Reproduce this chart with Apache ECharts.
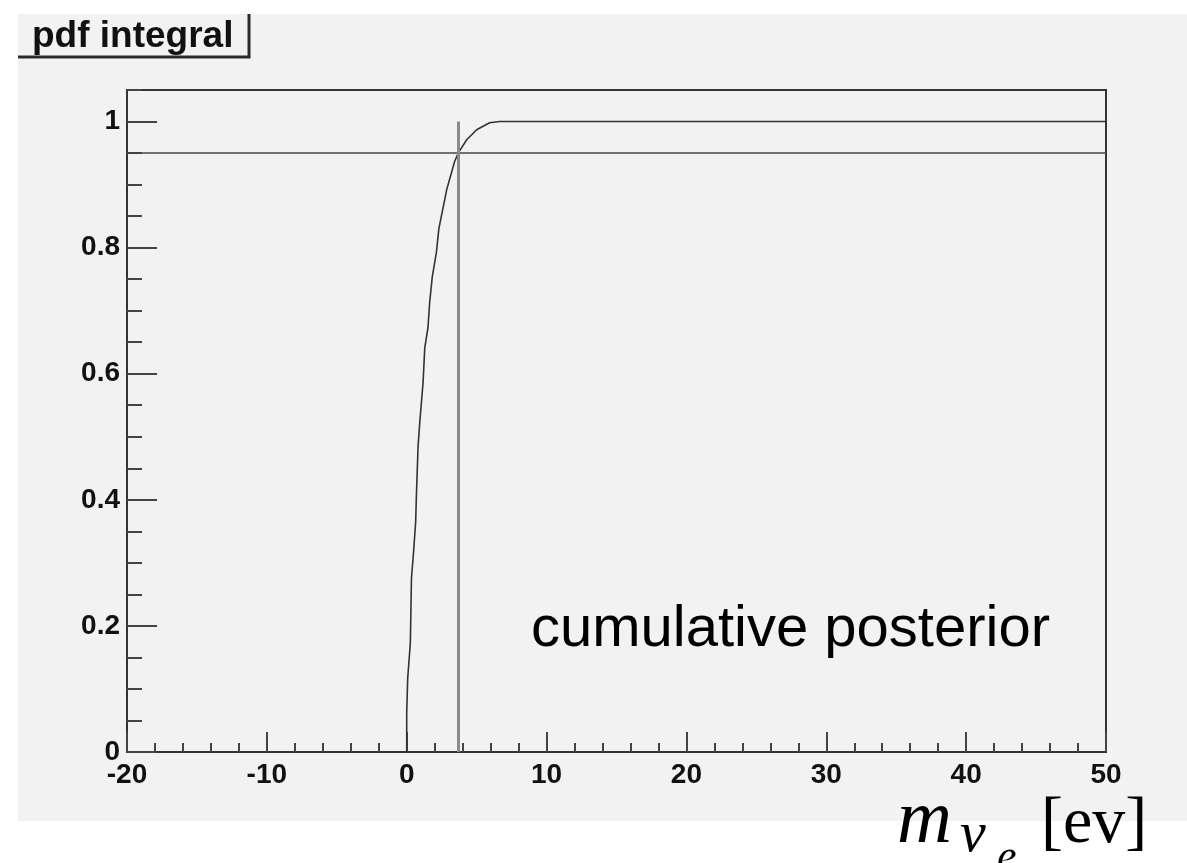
<!DOCTYPE html>
<html>
<head>
<meta charset="utf-8">
<title>pdf integral</title>
<script src="https://cdn.jsdelivr.net/npm/echarts@6/dist/echarts.min.js"></script>
<style>
  html, body { margin: 0; padding: 0; background: #fff; }
  #chart { width: 1187px; height: 863px; }
</style>
</head>
<body>
<div id="chart"></div>
<script>
// cumulative posterior (x in eV, y = integral)
const cdfX = [0, 0, 0.07, 0.26, 0.34, 0.5, 0.64, 0.69, 0.81, 0.93, 1.05, 1.17, 1.29, 1.52, 1.64, 1.83, 2.12, 2.3, 2.86, 3.43, 3.71, 4.29, 5.0, 5.93, 6.64, 50]
const cdfY = [0, 0.062, 0.117, 0.173, 0.276, 0.32, 0.365, 0.405, 0.484, 0.522, 0.554, 0.586, 0.641, 0.673, 0.713, 0.754, 0.792, 0.83, 0.892, 0.937, 0.951, 0.971, 0.987, 0.998, 1.0, 1.0]
const level95 = 0.95
const limit95 = 3.7
const xRange = [-20, 50]
const yRange = [0, 1.05]

const font = '"Liberation Sans", Arial, Helvetica, sans-serif'
const serif = '"Liberation Serif", "Times New Roman", serif'
const frameColor = '#333'
const panelColor = '#f2f2f2'

const chart = echarts.init(document.getElementById('chart'))

const points = cdfX.map((x, i) => [x, cdfY[i]])

const option = {
  backgroundColor: '#fff',
  animation: false,
  title: {
    text: 'pdf integral',
    left: 32,
    top: 18,
    padding: 0,
    textStyle: {
      fontFamily: font,
      fontWeight: 'bold',
      fontSize: 37,
      color: '#111'
    }
  },
  grid: {
    left: 127,
    right: 81,
    top: 90,
    bottom: 111,
    show: true,
    backgroundColor: 'transparent',
    borderColor: frameColor,
    borderWidth: 2
  },
  xAxis: [{
    type: 'value',
    min: xRange[0],
    max: xRange[1],
    interval: 10,
    position: 'bottom',
    axisLine: { show: true, onZero: false, lineStyle: { color: frameColor, width: 2 } },
    axisTick: { show: true, inside: true, length: 20, lineStyle: { color: '#444', width: 2 } },
    minorTick: { show: true, splitNumber: 5, length: 9, lineStyle: { color: '#444', width: 2 } },
    splitLine: { show: false },
    axisLabel: {
      margin: 9,
      fontFamily: font,
      fontWeight: 'bold',
      fontSize: 28,
      color: '#111'
    }
  }],
  yAxis: [{
    type: 'value',
    min: yRange[0],
    max: yRange[1],
    interval: 0.2,
    position: 'left',
    axisLine: { show: true, onZero: false, lineStyle: { color: frameColor, width: 2 } },
    axisTick: { show: true, inside: true, length: 30, lineStyle: { color: '#444', width: 2 } },
    splitLine: { show: false },
    axisLabel: {
      margin: 7,
      showMaxLabel: false,
      fontFamily: font,
      fontWeight: 'bold',
      fontSize: 28,
      color: '#111'
    }
  }, {
    // minor ticks only
    type: 'value',
    min: yRange[0],
    max: yRange[1],
    interval: 0.05,
    position: 'left',
    axisLine: { show: false, onZero: false },
    axisTick: { show: true, inside: true, length: 15, lineStyle: { color: '#444', width: 2 } },
    splitLine: { show: false },
    axisLabel: { show: false }
  }],
  graphic: [
    {
      type: 'rect',
      z: -100,
      silent: true,
      shape: { x: 18, y: 14, width: 1169, height: 807 },
      style: { fill: panelColor }
    },
    {
      type: 'polyline',
      silent: true,
      shape: { points: [[18, 57], [249, 57], [249, 14]] },
      style: { stroke: '#2a2a2a', lineWidth: 3, fill: null }
    },
    {
      type: 'text',
      silent: true,
      style: {
        text: 'cumulative posterior',
        x: 531,
        y: 630,
        font: '58px ' + font,
        fill: '#000',
        verticalAlign: 'middle'
      }
    },
    {
      type: 'text',
      silent: true,
      style: { text: 'm', x: 897, y: 822, font: 'italic 76px ' + serif, fill: '#000', verticalAlign: 'middle' }
    },
    {
      type: 'text',
      silent: true,
      style: { text: 'ν', x: 960, y: 836, font: 'italic 58px ' + serif, fill: '#000', verticalAlign: 'middle' }
    },
    {
      type: 'text',
      silent: true,
      style: { text: 'e', x: 997, y: 858, font: 'italic 44px ' + serif, fill: '#000', verticalAlign: 'middle' }
    },
    {
      type: 'text',
      silent: true,
      style: { text: '[ev]', x: 1041, y: 825, font: '66px ' + serif, fill: '#000', verticalAlign: 'middle' }
    }
  ],
  series: [{
    type: 'line',
    xAxisIndex: 0,
    yAxisIndex: 0,
    data: points,
    showSymbol: false,
    smooth: false,
    lineStyle: { color: '#333', width: 1.6 },
    markLine: {
      silent: true,
      symbol: 'none',
      label: { show: false },
      data: [
        { yAxis: level95, lineStyle: { color: '#444', width: 1.6, type: 'solid' } },
        [
          { coord: [limit95, yRange[0]], lineStyle: { color: '#8a8a8a', width: 3, type: 'solid' } },
          { coord: [limit95, 1] }
        ]
      ]
    }
  }]
}

chart.setOption(option)
</script>
</body>
</html>
